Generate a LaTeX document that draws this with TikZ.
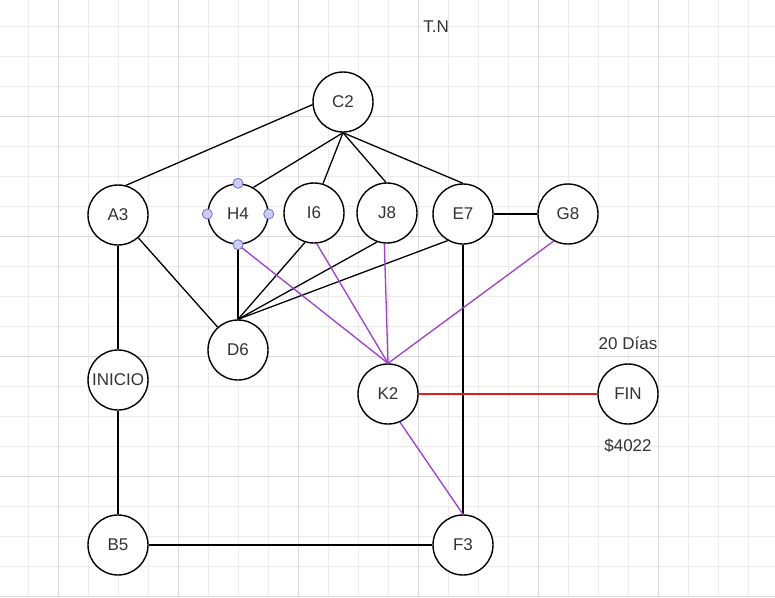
\documentclass[tikz,border=0pt]{standalone}
\usepackage{fontspec}
\setmainfont{Liberation Sans}
\definecolor{txt}{RGB}{51,51,51}
\definecolor{gridminor}{RGB}{236,236,236}
\definecolor{gridmajor}{RGB}{218,218,218}
\definecolor{path}{RGB}{160,60,210}
\definecolor{critical}{RGB}{225,30,30}
\definecolor{handlefill}{RGB}{204,204,255}
\definecolor{handleline}{RGB}{110,110,210}
\begin{document}
\begin{tikzpicture}[x=1pt,y=-1pt,
  vertex/.style={circle, draw=black, line width=1.4pt, minimum size=60pt,
    inner sep=0pt, fill=white, text=txt, font=\fontsize{17}{20}\selectfont},
  label/.style={text=txt, font=\fontsize{17}{20}\selectfont, inner sep=0pt},
  edge/.style={draw=black, line width=1.3pt},
  pathedge/.style={draw=path, line width=1.3pt},
  critedge/.style={draw=critical, line width=1.3pt},
  handle/.style={circle, draw=handleline, fill=handlefill, line width=0.8pt,
    minimum size=10pt, inner sep=0pt}]

% canvas and grid
\fill[white] (0,0) rectangle (775,597);
\useasboundingbox (0,0) rectangle (775,597);
\foreach \x in {28,58,...,775} \draw[gridminor, line width=1pt] (\x,0) -- (\x,597);
\foreach \y in {26,56,...,597} \draw[gridminor, line width=1pt] (0,\y) -- (775,\y);
\foreach \x in {58,178,...,775} \draw[gridmajor, line width=1pt] (\x,0) -- (\x,597);
\foreach \y in {116,236,...,597} \draw[gridmajor, line width=1pt] (0,\y) -- (775,\y);

% activities
\node[vertex] (c2) at (343,102) {C2};
\node[vertex] (a3) at (118,215) {A3};
\node[vertex] (h4) at (238,214) {H4};
\node[vertex] (i6) at (314,213) {I6};
\node[vertex] (j8) at (387,213) {J8};
\node[vertex] (e7) at (463,214) {E7};
\node[vertex] (g8) at (568,214) {G8};
\node[vertex] (d6) at (238,350) {D6};
\node[vertex] (inicio) at (118,380) {INICIO};
\node[vertex] (k2) at (388,394) {K2};
\node[vertex] (fin) at (628,394) {FIN};
\node[vertex] (b5) at (118,545) {B5};
\node[vertex] (f3) at (463,545) {F3};

% annotations
\node[label] (title) at (436,27) {T.N};
\node[label] (days) at (628,343) {20 Días};
\node[label] (cost) at (628,446) {\$4022};

% dependencies
\draw[edge] (c2.185) -- (a3.75);
\draw[edge] (c2.south) -- (h4.60);
\draw[edge] (c2.south) -- (i6.73);
\draw[edge] (c2.south) -- (j8.92);
\draw[edge] (c2.south) -- (e7.north);
\draw[edge] (e7.east) -- (g8.west);
\draw[edge] (a3.south) -- (inicio.north);
\draw[edge] (a3) -- (d6);
\draw[edge] (h4.south) -- (d6.north);
\draw[edge] (i6.253) -- (d6.north);
\draw[edge] (j8.251) -- (d6.north);
\draw[edge] (e7.240) -- (d6.north);
\draw[edge] (e7.south) -- (f3.north);
\draw[edge] (inicio.south) -- (b5.north);
\draw[edge] (b5.east) -- (f3.west);

% highlighted paths
\draw[pathedge] (h4.south) -- (k2.north);
\draw[pathedge] (i6.275) -- (k2.north);
\draw[pathedge] (j8.265) -- (k2.north);
\draw[pathedge] (g8.242) -- (k2.north);
\draw[pathedge] (k2.293) -- (f3.north);
\draw[critedge] (k2.east) -- (fin.west);

% selection handles
\node[handle] (hn) at (h4.north) {};
\node[handle] (hw) at (h4.west) {};
\node[handle] (he) at (h4.east) {};
\node[handle] (hs) at (h4.south) {};
\end{tikzpicture}
\end{document}
